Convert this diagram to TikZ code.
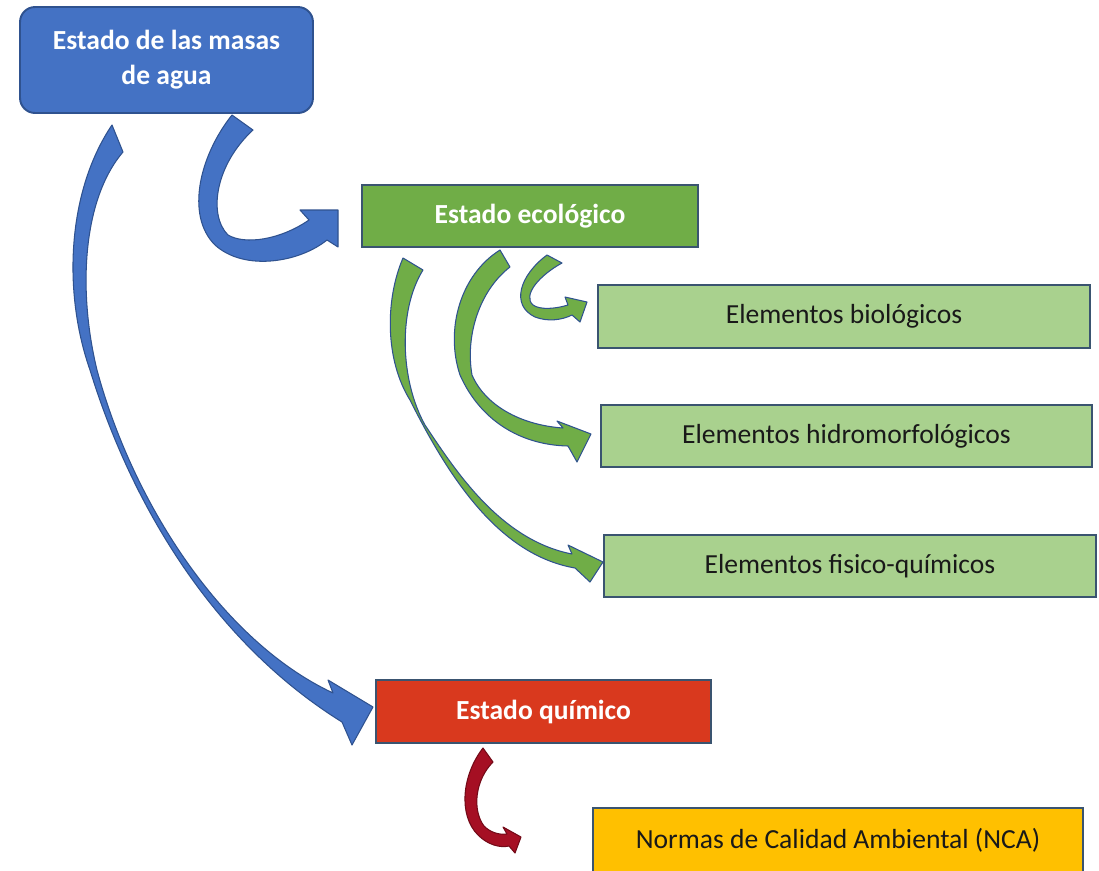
\documentclass[tikz,border=0pt]{standalone}
\usepackage{fontspec}
\setmainfont{Carlito}
\definecolor{bluefill}{HTML}{4472C4}
\definecolor{blueline}{HTML}{2F528F}
\definecolor{greenfill}{HTML}{70AD47}
\definecolor{lightgreen}{HTML}{A9D18E}
\definecolor{boxline}{HTML}{3A5470}
\definecolor{redfill}{HTML}{D9391E}
\definecolor{darkred}{HTML}{A50F23}
\definecolor{yellowfill}{HTML}{FFC000}
\begin{document}
\begin{tikzpicture}[x=0.02cm,y=-0.02cm,
  boxbase/.style={draw=boxline, line width=1.1pt, align=center, inner sep=0pt,
    font=\fontsize{15.7}{19.8}\selectfont},
  headbox/.style={boxbase, text=white, font=\fontsize{15.7}{19.8}\selectfont\bfseries},
  subbox/.style={boxbase, fill=lightgreen, text=black!90, minimum width=9.84cm, minimum height=1.25cm},
  bluearrow/.style={fill=bluefill, draw=blueline, line width=0.6pt, line join=round},
  greenarrow/.style={fill=greenfill, draw=blueline, line width=0.6pt, line join=round},
  redarrow/.style={fill=darkred, draw=darkred!70!black, line width=0.6pt, line join=round}]
\useasboundingbox (0,0) rectangle (1099,870);
\clip (0,0) rectangle (1099,870);

% boxes
\node[headbox, fill=bluefill, draw=blueline, rounded corners=0.3cm,
  minimum width=5.86cm, minimum height=2.12cm] (top) at (166.5,60)
  {Estado de las masas\\de agua};
\node[headbox, fill=greenfill, draw=boxline, minimum width=6.72cm, minimum height=1.24cm]
  (eco) at (530,216) {Estado ecológico};
\node[subbox] (bio) at (844,316.5) {Elementos biológicos};
\node[subbox] (hidro) at (846.5,436) {Elementos hidromorfológicos};
\node[subbox] (fq) at (850,566) {Elementos fisico-químicos};
\node[headbox, fill=redfill, draw=boxline, minimum width=6.7cm, minimum height=1.26cm]
  (quim) at (543.5,711.5) {Estado químico};
\node[boxbase, fill=yellowfill, text=black!90, minimum width=9.8cm, minimum height=1.28cm]
  (nca) at (838,840) {Normas de Calidad Ambiental (NCA)};

% blue arrow: top -> quim
\draw[bluearrow] (112,125) .. controls (68,190) and (62,290) .. (90,370)
  .. controls (130,500) and (210,640) .. (342,722)
  -- (352,745) -- (373,707) -- (328,680) -- (333,693)
  .. controls (220,640) and (132,500) .. (97,370)
  .. controls (78,292) and (82,200) .. (123,152) -- cycle;

% blue arrow: top -> eco
\draw[bluearrow] (232,115) .. controls (200,155) and (185,215) .. (215,245)
  .. controls (245,272) and (300,262) .. (327,240)
  -- (338,247) -- (338,210) -- (300,210) -- (309,220)
  .. controls (280,240) and (245,245) .. (228,235)
  .. controls (208,215) and (215,165) .. (253,130) -- cycle;

% green arrow: eco -> fq
\draw[greenarrow] (403,258) .. controls (385,300) and (385,360) .. (410,400)
  .. controls (450,480) and (500,555) .. (575,568)
  -- (590,582) -- (603,562) -- (568,545) -- (572,554)
  .. controls (500,540) and (455,470) .. (425,425)
  .. controls (400,380) and (398,310) .. (423,270) -- cycle;

% green arrow: eco -> hidro
\draw[greenarrow] (500,250) .. controls (460,275) and (445,330) .. (460,375)
  .. controls (480,420) and (520,445) .. (568,446)
  -- (577,462) -- (591,434) -- (557,421) -- (563,428)
  .. controls (520,425) and (485,405) .. (472,375)
  .. controls (465,335) and (480,290) .. (510,267) -- cycle;

% green arrow: eco -> bio
\draw[greenarrow] (547,255) .. controls (520,275) and (510,305) .. (535,317)
  .. controls (548,322) and (562,320) .. (572,315)
  -- (580,322) -- (587,302) -- (565,297) -- (568,305)
  .. controls (555,309) and (540,310) .. (533,305)
  .. controls (522,295) and (540,275) .. (562,263) -- cycle;

% red arrow: quim -> nca
\draw[redarrow] (483,748) .. controls (462,775) and (458,815) .. (478,835)
  .. controls (488,845) and (500,848) .. (509,846)
  -- (515,853) -- (521,837) -- (503,827) -- (507,834)
  .. controls (498,835) and (490,832) .. (484,826)
  .. controls (472,810) and (475,780) .. (493,762) -- cycle;
\end{tikzpicture}
\end{document}
